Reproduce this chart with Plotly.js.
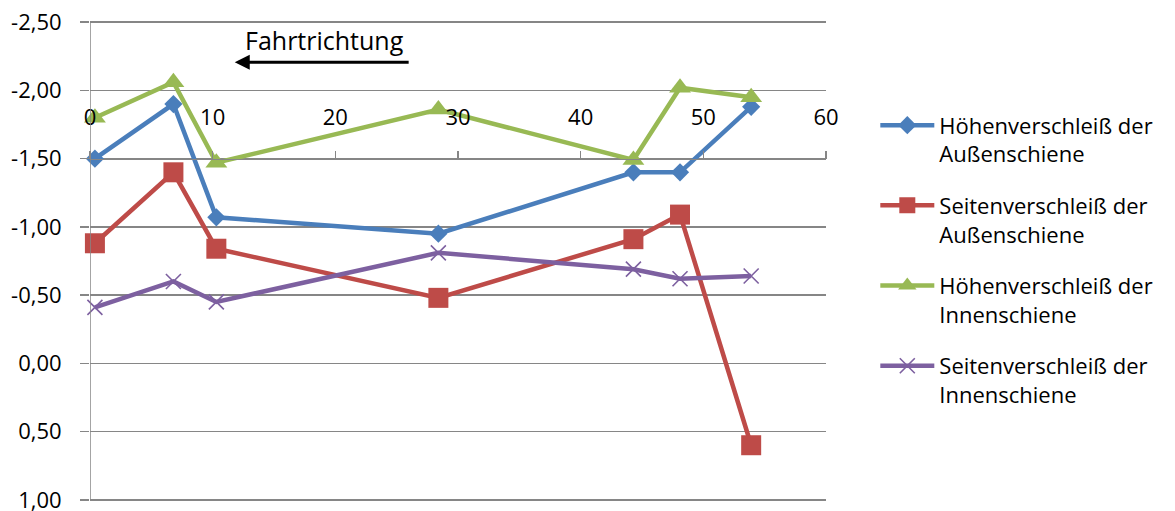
<!DOCTYPE html>
<html>
<head>
<meta charset="utf-8">
<script src="https://cdn.plot.ly/plotly-3.0.1.min.js"></script>
<style>
  html, body { margin: 0; padding: 0; background: #fff; }
  #chart { width: 1175px; height: 511px; }
</style>
</head>
<body>
<div id="chart"></div>
<script>
// Streckenposition der Messpunkte
const positions = [0.4, 6.8, 10.3, 28.4, 44.3, 48.1, 53.9];

// Verschleißwerte je Messpunkt
const hoeheAussen = [-1.50, -1.90, -1.07, -0.95, -1.40, -1.40, -1.88];
const seiteAussen = [-0.88, -1.40, -0.84, -0.48, -0.91, -1.09, 0.60];
const hoeheInnen  = [-1.80, -2.06, -1.47, -1.86, -1.49, -2.02, -1.95];
const seiteInnen  = [-0.41, -0.60, -0.45, -0.81, -0.69, -0.62, -0.64];

const seriesNames = [
  'Höhenverschleiß der<br>Außenschiene',
  'Seitenverschleiß der<br>Außenschiene',
  'Höhenverschleiß der<br>Innenschiene',
  'Seitenverschleiß der<br>Innenschiene'
];

const yTickValues = [-2.5, -2.0, -1.5, -1.0, -0.5, 0.0, 0.5, 1.0];
const yTickLabels = ['-2,50', '-2,00', '-1,50', '-1,00', '-0,50', '0,00', '0,50', '1,00'];
const xTickValues = [0, 10, 20, 30, 40, 50, 60];
const xTickLabels = ['0', '10', '20', '30', '40', '50', '60'];

// umgekehrte Achse (negative Werte oben); leicht erweitert, damit die
// Randgitterlinien bei -2,50 und 1,00 gezeichnet werden
const yRange = [1.016, -2.516];
const xCross = -1.5;            // Höhe, an der die Rechtsachse schneidet
const FONT = 'Open Sans, Liberation Sans, Arial, sans-serif';
const GRID = '#868686';

const colors = ['#4A7EBB', '#BE4B48', '#98B954', '#7D60A0'];
const symbols = ['diamond', 'square', 'triangle-up', 'x-thin'];
const sizes = [14, 20, 19, 15];
const values = [hoeheAussen, seiteAussen, hoeheInnen, seiteInnen];

const traces = values.map((v, i) => ({
  type: 'scatter',
  mode: 'lines+markers',
  x: positions,
  y: v,
  name: seriesNames[i],
  legendgroup: 'g' + i,
  line: { color: colors[i], width: 4.5 },
  marker: {
    symbol: symbols[i],
    size: sizes[i],
    color: colors[i],
    line: { color: colors[i], width: i === 3 ? 1.6 : 0 }
  },
  cliponaxis: false,
  hoverinfo: 'x+y'
}));

// Lage der Rechtsachse als Anteil der Plotfläche
const xAxisPos = (yRange[0] - xCross) / (yRange[0] - yRange[1]);

const layout = {
  width: 1175,
  height: 511,
  margin: { l: 90, r: 349, t: 20, b: 9 },
  paper_bgcolor: '#ffffff',
  plot_bgcolor: '#ffffff',
  font: { family: FONT, size: 22, color: '#000' },
  showlegend: true,
  legend: {
    x: 1.067, y: 0.825, xanchor: 'left', yanchor: 'top',
    font: { family: FONT, size: 22, color: '#000' },
    valign: 'top',
    itemwidth: 54,
    tracegroupgap: 20,
    traceorder: 'grouped',
    bgcolor: 'rgba(0,0,0,0)'
  },
  xaxis: {
    range: [0, 60],
    autorange: false,
    anchor: 'free',
    position: xAxisPos,
    side: 'top',
    showgrid: false,
    zeroline: false,
    showline: true,
    linecolor: GRID,
    linewidth: 1.5,
    ticks: 'outside',
    ticklen: 8,
    tickwidth: 1.5,
    tickcolor: GRID,
    tickmode: 'array',
    tickvals: xTickValues,
    ticktext: xTickLabels,
    ticklabelstandoff: 17,
    ticklabeloverflow: 'allow',
    tickfont: { family: FONT, size: 22, color: '#000' }
  },
  yaxis: {
    range: yRange,
    autorange: false,
    showgrid: true,
    gridcolor: GRID,
    gridwidth: 1.5,
    zeroline: false,
    showline: false,
    ticks: 'outside',
    ticklen: 9,
    tickwidth: 1.5,
    tickcolor: GRID,
    tickmode: 'array',
    tickvals: yTickValues,
    ticktext: yTickLabels,
    ticklabelstandoff: 14,
    ticklabeloverflow: 'allow',
    tickfont: { family: FONT, size: 22, color: '#000' }
  },
  shapes: [
    // senkrechte Wertachse von -2,50 bis 1,00
    {
      type: 'line', xref: 'x', yref: 'y',
      x0: 0, x1: 0, y0: yTickValues[0], y1: yTickValues[yTickValues.length - 1],
      line: { color: GRID, width: 1.5 }
    }
  ],
  annotations: [
    {
      x: 11.8, y: -2.207, xref: 'x', yref: 'y',
      ax: 26.1, ay: -2.207, axref: 'x', ayref: 'y',
      text: '',
      showarrow: true,
      arrowhead: 2,
      arrowsize: 1,
      arrowwidth: 3,
      arrowcolor: '#000'
    },
    {
      x: 19.15, y: -2.37, xref: 'x', yref: 'y',
      text: 'Fahrtrichtung',
      showarrow: false,
      font: { family: FONT, size: 25, color: '#000' }
    }
  ]
};

Plotly.newPlot('chart', traces, layout, { displayModeBar: false, staticPlot: true });
</script>
</body>
</html>
